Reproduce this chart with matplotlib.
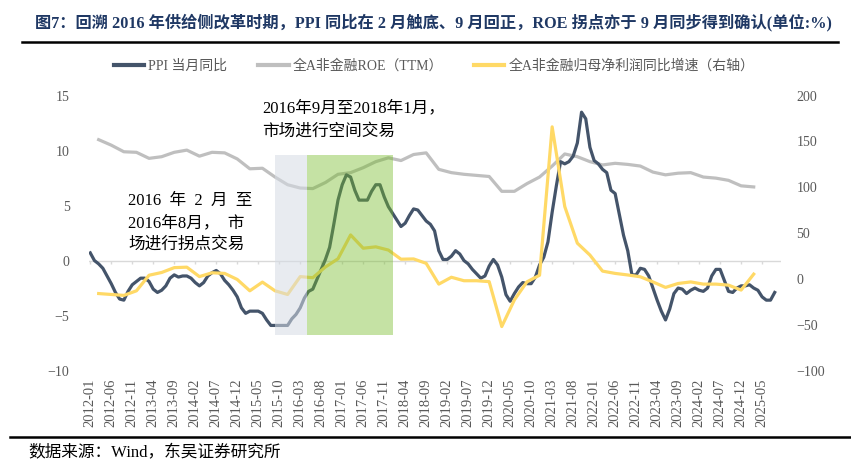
import pandas as pd
import matplotlib
matplotlib.use("Agg")
import matplotlib.pyplot as plt
from matplotlib.lines import Line2D
from matplotlib.patches import Rectangle

plt.rcParams["font.family"] = ["Liberation Serif", "Noto Sans CJK SC", "DejaVu Sans"]

# x categories (monthly) and quarterly report dates
months = pd.period_range("2012-01", "2025-08", freq="M").strftime("%Y-%m").tolist()
quarters = [m for m in months if m[-2:] in ("03", "06", "09", "12") and m <= "2025-03"]

# PPI 当月同比 (%), monthly
ppi = [
    0.7, 0.0, -0.3, -0.7, -1.4, -2.1, -2.9, -3.5, -3.6, -2.8, -2.2, -1.9,
    -1.6, -1.6, -1.9, -2.6, -2.9, -2.7, -2.3, -1.6, -1.3, -1.5, -1.4, -1.4,
    -1.6, -2.0, -2.3, -2.0, -1.4, -1.1, -0.9, -1.2, -1.8, -2.2, -2.7, -3.3,
    -4.3, -4.8, -4.6, -4.6, -4.6, -4.8, -5.4, -5.9, -5.9, -5.9, -5.9, -5.9,
    -5.3, -4.9, -4.3, -3.4, -2.8, -2.6, -1.7, -0.8, 0.1, 1.2, 3.3, 5.5,
    6.9, 7.8, 7.6, 6.4, 5.5, 5.5, 5.5, 6.3, 6.9, 6.9, 5.8, 4.9,
    4.3, 3.7, 3.1, 3.4, 4.1, 4.7, 4.6, 4.1, 3.6, 3.3, 2.7, 0.9,
    0.1, 0.1, 0.4, 0.9, 0.6, 0.0, -0.3, -0.8, -1.2, -1.6, -1.4, -0.5,
    0.1, -0.4, -1.5, -3.1, -3.7, -3.0, -2.4, -2.0, -2.1, -2.1, -1.5, -0.4,
    0.3, 1.7, 4.4, 6.8, 9.0, 8.8, 9.0, 9.5, 10.7, 13.5, 12.9, 10.3,
    9.1, 8.8, 8.3, 8.0, 6.4, 6.1, 4.2, 2.3, 0.9, -1.3, -1.3, -0.7,
    -0.8, -1.4, -2.5, -3.6, -4.6, -5.4, -4.4, -3.0, -2.5, -2.6, -3.0, -2.7,
    -2.5, -2.7, -2.8, -2.5, -1.4, -0.8, -0.8, -1.8, -2.8, -2.9, -2.5, -2.3,
    -2.3, -2.2, -2.5, -2.7, -3.3, -3.6, -3.6, -2.9,
]

# 全A非金融ROE（TTM）(%), quarterly
roe = [
    11.0, 10.5, 9.9, 9.85,
    9.3, 9.45, 9.85, 10.05,
    9.5, 9.85, 9.8, 9.25,
    8.35, 8.4, 7.6, 6.9,
    6.6, 6.55, 7.1, 7.85,
    8.0, 8.45, 9.0, 9.35,
    9.1, 9.65, 9.8, 8.3,
    8.0, 7.85, 7.75, 7.65,
    6.3, 6.3, 7.0, 7.6,
    8.6, 9.7, 9.45, 9.0,
    8.7, 8.85, 8.75, 8.6,
    8.05, 7.8, 7.95, 8.0,
    7.6, 7.5, 7.3, 6.8,
    6.7,
]

# 全A非金融归母净利润同比增速 (%), quarterly, right axis
profit = [
    -16, -17, -18, -13,
    4, 7, 12.3, 12.8,
    2.5, 6.7, 6.0, -0.6,
    -13, -3.5, -13, -17,
    2.5, 1.3, 13, 22,
    48, 33.5, 35, 31.5,
    21.5, 21.8, 17, -5.7,
    1.8, -2, -2, -3,
    -52, -23, -3.2, 4,
    166, 79, 39, 26,
    8.5, 6, 4.3, 2.3,
    -3.3, -9.3, -5, -3.3,
    -5.7, -5.7, -6.8, -12.2,
    5.2,
]

NAVY = "#44546A"
GREY = "#BFBFBF"
YELLOW = "#FFD966"
TXT = "#595959"

x_m = list(range(len(months)))
x_q = [months.index(q) for q in quarters]

fig = plt.figure(figsize=(8.51, 4.73), dpi=100)
ax = fig.add_axes([89 / 851, 1 - 370.5 / 473, 692 / 851, 274.8 / 473])
ax2 = ax.twinx()

ax.plot(x_m, ppi, color=NAVY, lw=2.3, zorder=3, solid_joinstyle="round")
ax.plot(x_q, roe, color=GREY, lw=2.3, zorder=2)
ax2.plot(x_q, profit, color=YELLOW, lw=2.3, zorder=2)

ax.set_xlim(-0.3, 164.5)
ax.set_ylim(-10, 15)
ax2.set_ylim(-100, 200)

# zero line with small tick marks
tick_idx = list(range(0, len(months) - 3, 5))
ax.axhline(0, color="#D9D9D9", lw=1, zorder=1)
ax.vlines(tick_idx, -0.35, 0, color="#D9D9D9", lw=1, zorder=1)

ax.set_xticks(tick_idx, [months[i] for i in tick_idx], rotation=90)
ax.tick_params(axis="x", length=0, pad=6, labelsize=10.5, labelcolor=TXT)
ax.set_yticks(range(-10, 16, 5))
ax.tick_params(axis="y", length=0, pad=14, labelsize=10, labelcolor=TXT)
ax2.set_yticks(range(-100, 201, 50))
ax2.tick_params(axis="y", length=0, pad=11, labelsize=10, labelcolor=TXT)
for a in (ax, ax2):
    for s in a.spines.values():
        s.set_visible(False)

# shaded periods (drawn over the lines)
ax2.add_patch(Rectangle((44, -6.8), 7.5, 16.45, transform=ax.transData,
                        facecolor="#D6DCE5", alpha=0.55, lw=0, zorder=5))
ax2.add_patch(Rectangle((51.5, -6.8), 20.5, 16.45, transform=ax.transData,
                        facecolor="#75BC28", alpha=0.42, lw=0, zorder=5))

ann = dict(fontsize=12, color="black", va="center", ha="left")
fig.text(262 / 851, 1 - 108 / 473, "2016年9月至2018年1月，", **ann)
fig.text(262 / 851, 1 - 132 / 473, "市场进行空间交易", **ann)
fig.text(128 / 851, 1 - 201 / 473, "2016  年  2  月  至", **ann)
fig.text(128 / 851, 1 - 223 / 473, "2016年8月，  市", **ann)
fig.text(128 / 851, 1 - 245 / 473, "场进行拐点交易", **ann)

handles = [
    Line2D([], [], color=NAVY, lw=3),
    Line2D([], [], color=GREY, lw=3),
    Line2D([], [], color=YELLOW, lw=3),
]
labels = ["PPI 当月同比", "全A非金融ROE（TTM）", "全A非金融归母净利润同比增速（右轴）"]
fig.legend(handles, labels, loc="center", bbox_to_anchor=(0.51, 1 - 66 / 473), ncol=3,
           frameon=False, fontsize=10, labelcolor=TXT, handlelength=2.2,
           handletextpad=0.3, columnspacing=2.2)

fig.text(35 / 851, 1 - 22 / 473,
         "图7：回溯 2016 年供给侧改革时期，PPI 同比在 2 月触底、9 月回正，ROE 拐点亦于 9 月同步得到确认(单位:%)",
         fontsize=11.7, fontweight="bold", color="#1F3864", va="center", ha="left")
fig.add_artist(Line2D([22 / 851, 838 / 851], [1 - 42 / 473] * 2, color="black", lw=1.8))
fig.add_artist(Line2D([10 / 851, 1.0], [1 - 437 / 473] * 2, color="black", lw=1.8))
fig.text(28 / 851, 1 - 453 / 473, "数据来源：Wind，东吴证券研究所", fontsize=12,
         color="black", va="center", ha="left")

fig.savefig("out.png", dpi=100)
